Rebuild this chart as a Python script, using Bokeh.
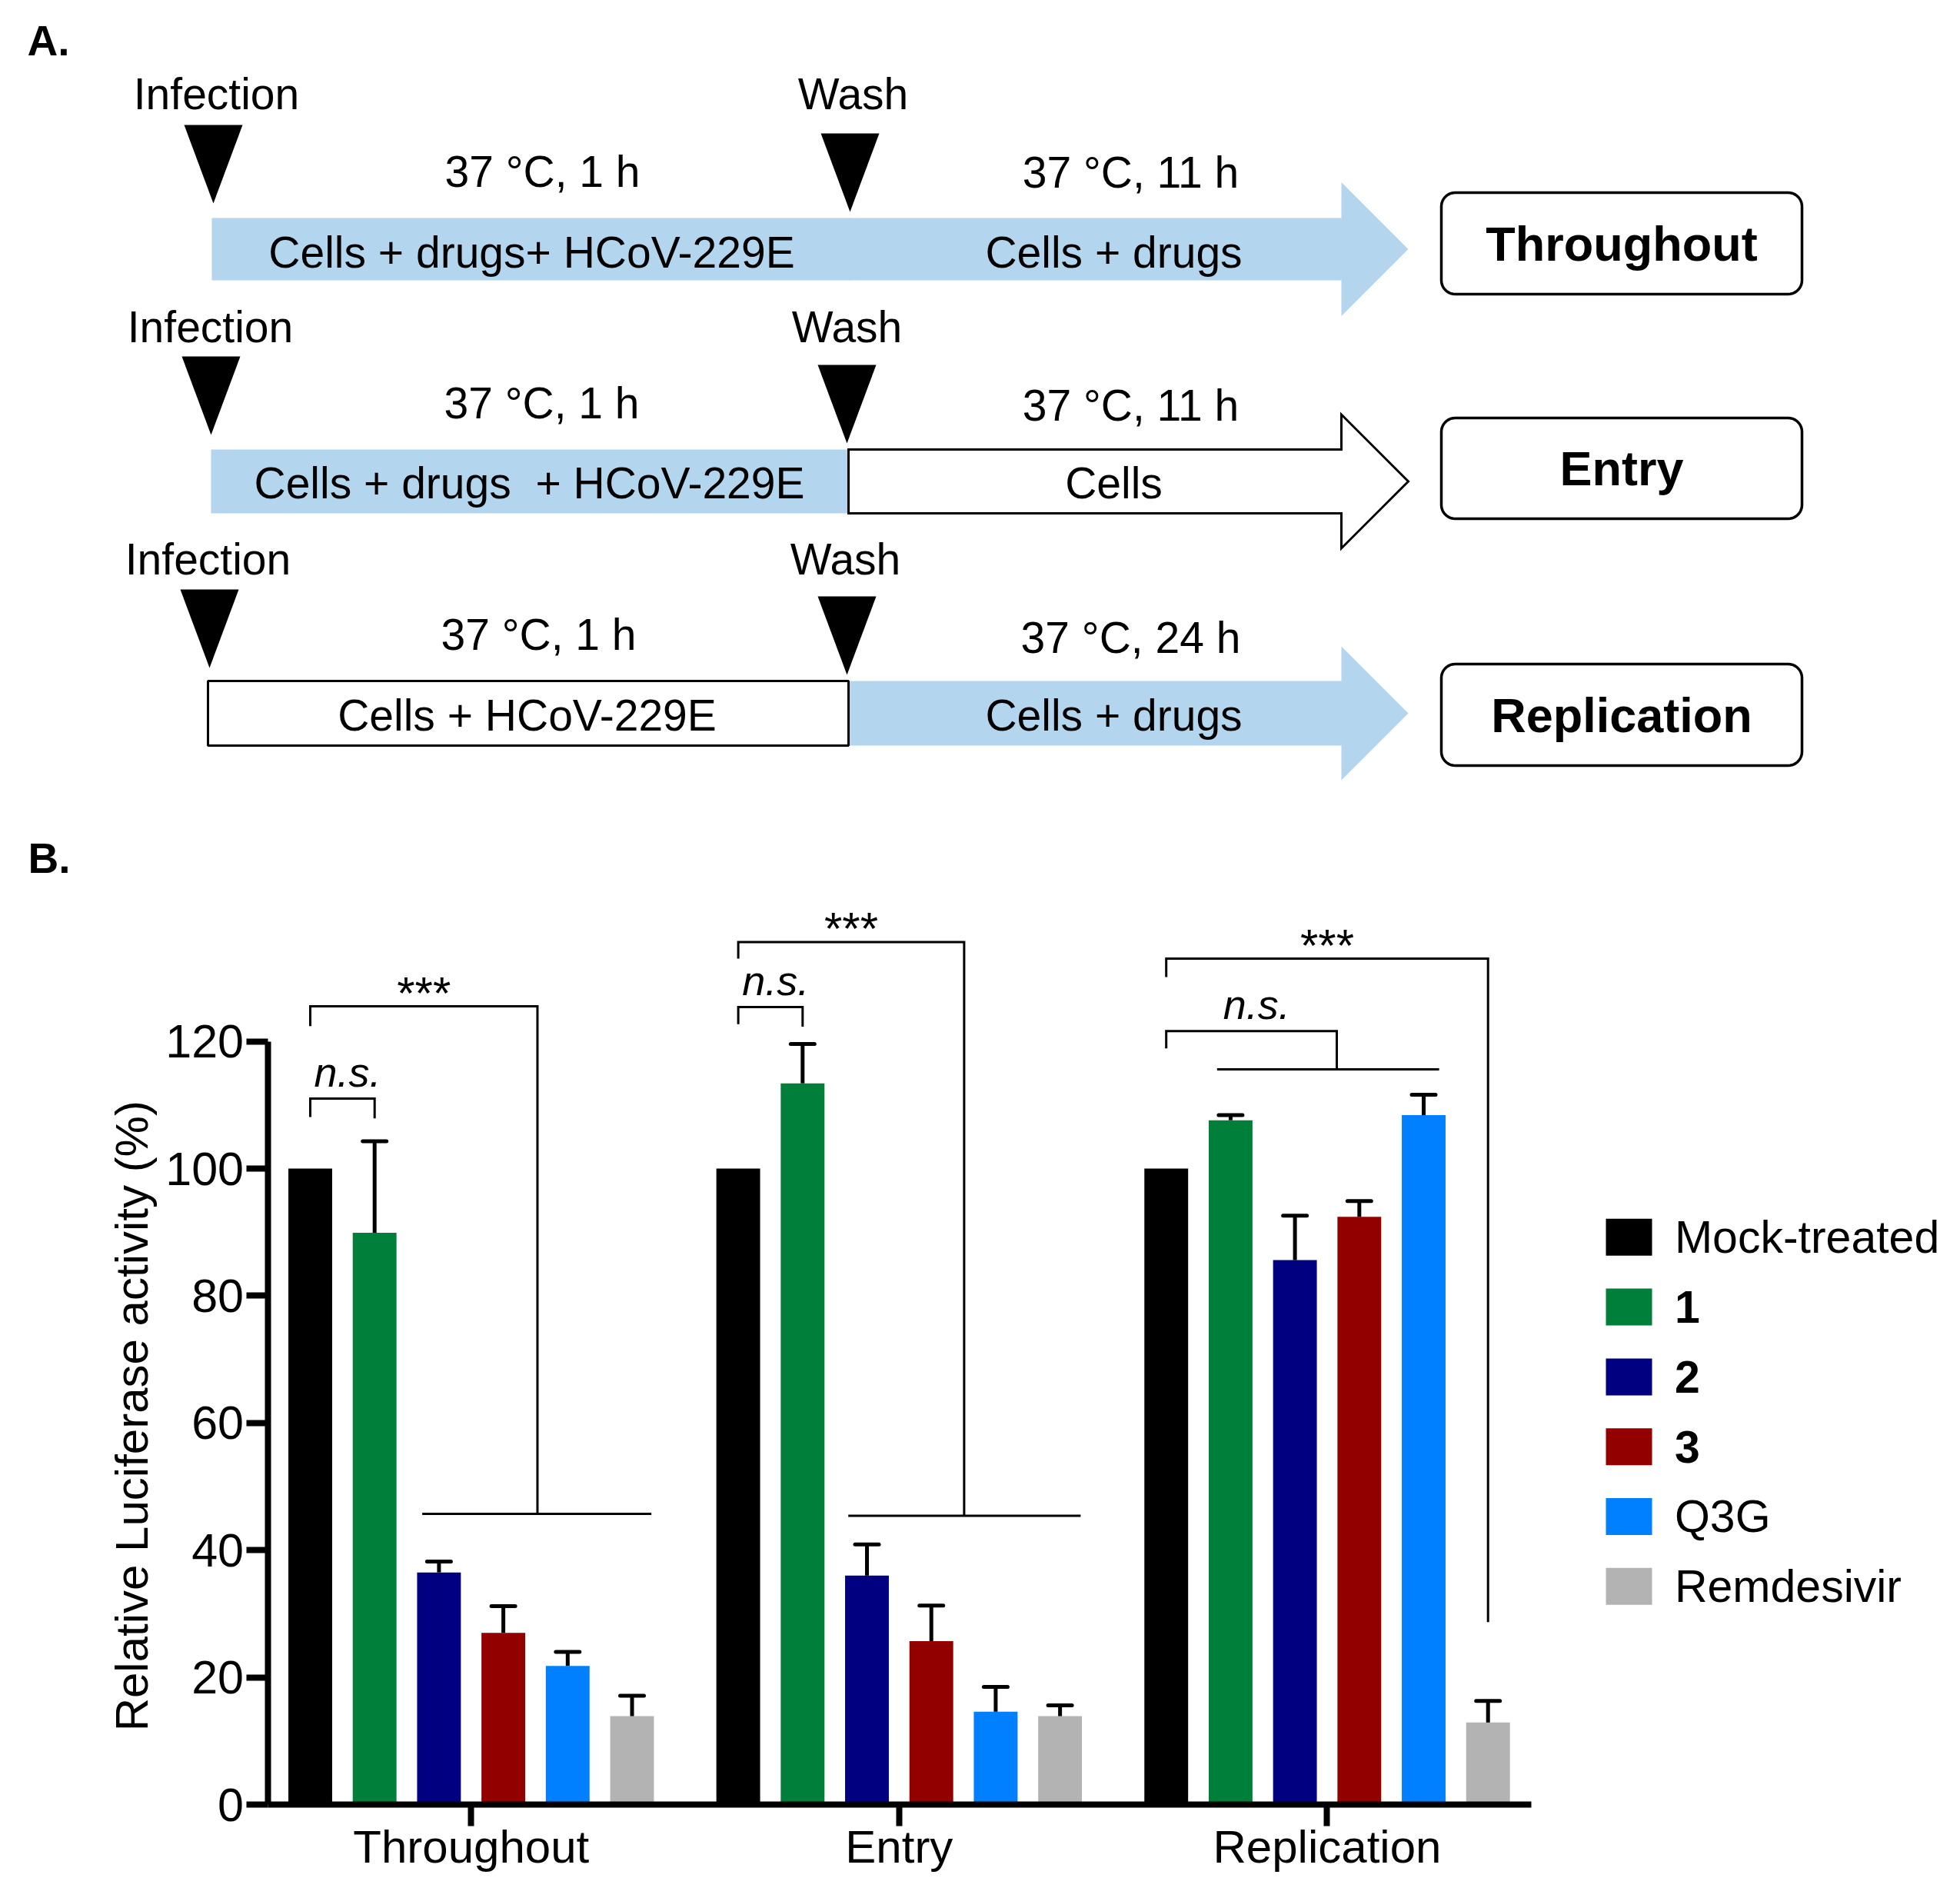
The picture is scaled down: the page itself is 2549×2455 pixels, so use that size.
import numpy as np
from bokeh.plotting import figure
from bokeh.models import Range1d, FixedTicker, ColumnDataSource
from bokeh.embed import file_html
from bokeh.resources import INLINE
from bokeh.core.properties import value

FONT = "Liberation Sans"

# ---------------- Panel B data ----------------
groups = ["Throughout", "Entry", "Replication"]
series = ["Mock-treated", "1", "2", "3", "Q3G", "Remdesivir"]
series_bold = [False, True, True, True, False, False]
colors = ["#000000", "#007F3B", "#000080", "#930000", "#0080FF", "#B3B3B3"]

throughout_mean = [100, 89.9, 36.5, 27.0, 21.8, 13.9]
throughout_err = [0, 14.4, 1.7, 4.2, 2.2, 3.2]
entry_mean = [100, 113.4, 36.0, 25.7, 14.6, 13.9]
entry_err = [0, 6.2, 4.9, 5.6, 3.9, 1.7]
replication_mean = [100, 107.6, 85.6, 92.4, 108.4, 12.9]
replication_err = [0, 0.8, 7.0, 2.5, 3.2, 3.4]

y_ticks = [0, 20, 40, 60, 80, 100, 120]
y_label = "Relative Luciferase activity (%)"

# significance brackets (x in bar index within a group, y in %)
star_top = [125.5, 135.6, 133.0]
star_left_end = [122.4, 133.0, 130.1]
star_right_x = [3.53, 3.51, 5.0]
star_right_end = [45.7, 45.4, 28.7]
star_sub = [(1.74, 5.30), (1.71, 5.32), None]
ns_top = [111.0, 125.4, 121.6]
ns_left_end = [108.1, 122.7, 118.9]
ns_right_x = [1.0, 1.0, 2.65]
ns_right_end = [107.9, 122.3, 115.6]
ns_sub = [None, None, (0.79, 4.24)]

GROUP_STEP = 6.65
BAR_W = 0.68
means = [throughout_mean, entry_mean, replication_mean]
errs = [throughout_err, entry_err, replication_err]

# ---------------- Panel A (diagram) layout, in picture pixels ----------------
LIGHT_BLUE = "#B3D6EE"
inf_tri_cx = [278, 275, 273]
inf_tri_top = [163, 464, 767]
wash_tri_cx = [1106, 1102, 1102]
wash_tri_top = [174, 475, 776]
TRI_HALF, TRI_H = 38, 102

infect_x = [282, 274, 271]
wash_x = [1110, 1102, 1100]
stage_mid = [122, 425, 727]
t1_text = ["37 °C, 1 h", "37 °C, 1 h", "37 °C, 1 h"]
t1_x = [706, 705, 701]
t1_mid = [223.5, 524.5, 825.5]
t2_text = ["37 °C, 11 h", "37 °C, 11 h", "37 °C, 24 h"]
t2_x = [1471, 1471, 1471]
t2_mid = [224.5, 527.5, 829]
left_text = ["Cells + drugs+ HCoV-229E", "Cells + drugs\u00a0 + HCoV-229E", "Cells + HCoV-229E"]
left_x = [692, 689, 686]
right_text = ["Cells + drugs", "Cells", "Cells + drugs"]
right_x = [1449, 1449, 1449]
band_text_mid = [328.5, 628.5, 930]
band_x0 = [276, 275, 271]
band_mid = 1104
shaft_end = 1745
tip_x = 1832
band_y0 = [284, 585, 886]
band_y1 = [365, 668, 970]
head_half = 87
left_blue = [True, True, False]
right_blue = [True, False, True]
box_labels = ["Throughout", "Entry", "Replication"]
box_x0, box_x1 = 1875, 2344
box_y0 = [251, 544, 864]
box_y1 = [383, 675, 996]
panel_letters = ["A.", "B."]
panel_letter_x = [36, 37]
panel_letter_y = [53, 1116]

# ---------------- one figure, whole page is the frame ----------------
W, H = 2533, 2439
LEFT, TOP = 1, 1                # picture position of the frame's top-left corner
PX_PER_X = 83.7                 # screen px per bar slot
PX_PER_Y = 8.27                 # screen px per %
X0_PAGE, Y0_PAGE = 404, 2347    # picture position of first bar centre / zero line
xr = Range1d((LEFT - X0_PAGE) / PX_PER_X, (LEFT + W - X0_PAGE) / PX_PER_X)
yr = Range1d((Y0_PAGE - (TOP + H)) / PX_PER_Y, (Y0_PAGE - TOP) / PX_PER_Y)

p = figure(width=W, height=H, x_range=xr, y_range=yr, output_backend="svg",
           toolbar_location=None, min_border=0, min_border_left=0, min_border_right=0,
           min_border_top=0, min_border_bottom=0)
p.extra_x_ranges = {"px": Range1d(LEFT, LEFT + W)}
p.extra_y_ranges = {"py": Range1d(TOP + H, TOP)}
p.grid.visible = False
p.outline_line_color = None
p.background_fill_color = "white"
p.border_fill_color = "white"

D = dict(x_range_name="px", y_range_name="py")

def add_texts(texts, xs, ys, size, style="normal", align="center", baseline="middle",
              angle=0.0, **kw):
    p.text(x=xs, y=ys, text=texts, text_font=value(FONT), text_font_size=value(size),
           text_font_style=value(style), text_align=value(align),
           text_baseline=value(baseline), text_color="black", angle=angle, **kw)

# triangles
txs, tys = [], []
for cx, top in list(zip(inf_tri_cx, inf_tri_top)) + list(zip(wash_tri_cx, wash_tri_top)):
    txs.append([cx - TRI_HALF, cx + TRI_HALF, cx])
    tys.append([top, top, top + TRI_H])
p.patches(txs, tys, fill_color="black", line_color=None, **D)

def arrow_shape(x0, y0, y1):
    c = 0.5 * (y0 + y1)
    xs = [x0, shaft_end, shaft_end, tip_x, shaft_end, shaft_end, x0]
    ys = [y0, y0, c - head_half, c, c + head_half, y1, y1]
    return xs, ys

for r in range(3):
    if left_blue[r]:
        p.patch([band_x0[r], band_mid + 2, band_mid + 2, band_x0[r]],
                [band_y0[r], band_y0[r], band_y1[r], band_y1[r]],
                fill_color=LIGHT_BLUE, line_color=None, **D)
    if right_blue[r]:
        xs, ys = arrow_shape(band_mid, band_y0[r], band_y1[r])
        p.patch(xs, ys, fill_color=LIGHT_BLUE, line_color=None, **D)
for r in range(3):
    if not left_blue[r]:
        p.patch([band_x0[r], band_mid, band_mid, band_x0[r]],
                [band_y0[r], band_y0[r], band_y1[r], band_y1[r]],
                fill_color="white", line_color="black", line_width=3, **D)
    if not right_blue[r]:
        xs, ys = arrow_shape(band_mid, band_y0[r], band_y1[r])
        p.patch(xs, ys, fill_color="white", line_color="black", line_width=3,
                line_join="miter", **D)

def rounded_rect(x0, y0, x1, y1, r, n=12):
    xs, ys = [], []
    corners = [(x1 - r, y0 + r, -np.pi / 2), (x1 - r, y1 - r, 0.0),
               (x0 + r, y1 - r, np.pi / 2), (x0 + r, y0 + r, np.pi)]
    for cx, cy, a0 in corners:
        a = np.linspace(a0, a0 + np.pi / 2, n)
        xs.extend((cx + r * np.cos(a)).tolist())
        ys.extend((cy + r * np.sin(a)).tolist())
    return xs, ys

bxs, bys = [], []
for r in range(3):
    xs, ys = rounded_rect(box_x0, box_y0[r], box_x1, box_y1[r], 18)
    bxs.append(xs)
    bys.append(ys)
p.patches(bxs, bys, fill_color="white", line_color="black", line_width=3.5, **D)

add_texts(["Infection"] * 3, infect_x, stage_mid, "57px", **D)
add_texts(["Wash"] * 3, wash_x, stage_mid, "57px", **D)
add_texts(t1_text, t1_x, t1_mid, "57px", **D)
add_texts(t2_text, t2_x, t2_mid, "57px", **D)
add_texts(left_text, left_x, band_text_mid, "57px", **D)
add_texts(right_text, right_x, band_text_mid, "57px", **D)
add_texts(box_labels, [0.5 * (box_x0 + box_x1)] * 3,
          [0.5 * (a + b) for a, b in zip(box_y0, box_y1)], "63px", "bold", **D)
add_texts(panel_letters, panel_letter_x, panel_letter_y, "55px", "bold", "left", **D)

# ---------------- bar chart ----------------
xs, tops, cols, ex, elo, ehi = [], [], [], [], [], []
for g in range(3):
    for j in range(6):
        x = g * GROUP_STEP + j
        xs.append(x)
        tops.append(means[g][j])
        cols.append(colors[j])
        if errs[g][j] > 0:
            ex.append(x)
            elo.append(means[g][j])
            ehi.append(means[g][j] + errs[g][j])

src = ColumnDataSource(dict(x=xs, top=tops, color=cols))
p.vbar(x="x", top="top", bottom=0, width=BAR_W, fill_color="color", line_color=None, source=src)

esrc = ColumnDataSource(dict(x=ex, lo=elo, hi=ehi,
                             cl=[v - 0.185 for v in ex], cr=[v + 0.185 for v in ex]))
p.segment(x0="x", y0="lo", x1="x", y1="hi", line_width=5, line_color="black", source=esrc)
p.segment(x0="cl", y0="hi", x1="cr", y1="hi", line_width=5, line_color="black",
          line_cap="round", source=esrc)

mxs, mys = [], []
for g in range(3):
    o = g * GROUP_STEP
    mxs.append([o, o, o + star_right_x[g], o + star_right_x[g]])
    mys.append([star_left_end[g], star_top[g], star_top[g], star_right_end[g]])
    if star_sub[g]:
        mxs.append([o + star_sub[g][0], o + star_sub[g][1]])
        mys.append([star_right_end[g], star_right_end[g]])
    mxs.append([o, o, o + ns_right_x[g], o + ns_right_x[g]])
    mys.append([ns_left_end[g], ns_top[g], ns_top[g], ns_right_end[g]])
    if ns_sub[g]:
        mxs.append([o + ns_sub[g][0], o + ns_sub[g][1]])
        mys.append([ns_right_end[g], ns_right_end[g]])
p.multi_line(mxs, mys, line_width=3, line_color="black", line_join="miter")

add_texts(["***"] * 3, [g * GROUP_STEP + star_right_x[g] / 2 for g in range(3)],
          [star_top[g] + 2.1 for g in range(3)], "60px")
add_texts(["n.s."] * 3, [g * GROUP_STEP + ns_right_x[g] / 2 + 0.08 for g in range(3)],
          [ns_top[g] + 4.2 for g in range(3)], "54px", "italic")

# legend
leg_y = [89.2 - 10.98 * i for i in range(6)]
p.rect(x=[20.49] * 6, y=leg_y, width=60, height=48, width_units="screen",
       height_units="screen", fill_color=colors, line_color=None)
for i in range(6):
    add_texts([series[i]], [21.2], [leg_y[i]], "59px",
              "bold" if series_bold[i] else "normal", "left")

# y axis title
add_texts([y_label], [(172 - X0_PAGE) / PX_PER_X], [61.1], "60px", angle=np.pi / 2)

# axes (fixed inside the page-sized frame)
ya = p.yaxis[0]
ya.fixed_location = (348.5 - X0_PAGE) / PX_PER_X
ya.ticker = FixedTicker(ticks=y_ticks)
ya.bounds = (0, 120)
ya.axis_line_width = 8
ya.axis_line_color = "black"
ya.major_tick_line_width = 8
ya.major_tick_line_color = "black"
ya.major_tick_out = 28
ya.major_tick_in = 0
ya.minor_tick_line_color = None
ya.major_label_text_font = FONT
ya.major_label_text_font_size = "61px"
ya.major_label_text_color = "black"
ya.major_label_standoff = 3

centers = [g * GROUP_STEP + 2.5 for g in range(3)]
xa = p.xaxis[0]
xa.fixed_location = 0
xa.ticker = FixedTicker(ticks=centers)
xa.major_label_overrides = {c: n for c, n in zip(centers, groups)}
xa.bounds = (ya.fixed_location, 18.97)
xa.axis_line_width = 8
xa.axis_line_color = "black"
xa.major_tick_line_width = 8
xa.major_tick_line_color = "black"
xa.major_tick_out = 28
xa.major_tick_in = 0
xa.minor_tick_line_color = None
xa.major_label_text_font = FONT
xa.major_label_text_font_size = "60px"
xa.major_label_text_color = "black"
xa.major_label_standoff = -7

open("out.html", "w").write(file_html(p, INLINE))
